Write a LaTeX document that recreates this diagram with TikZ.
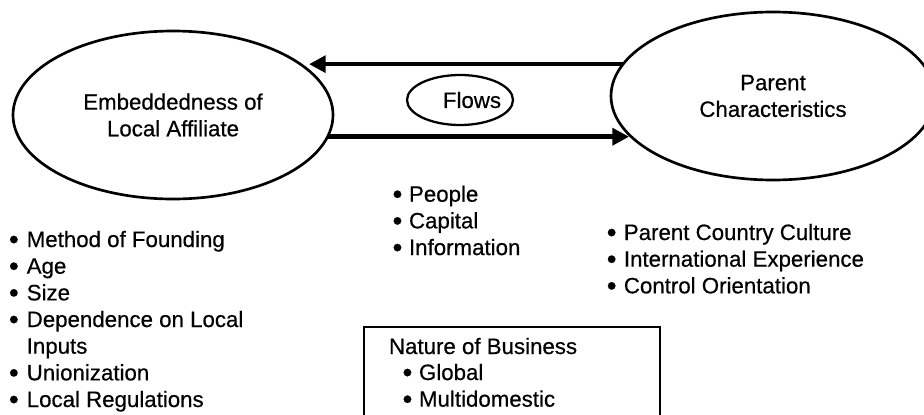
\documentclass[tikz,border=0pt]{standalone}
\usepackage{fontspec}
\usepackage{graphicx}
\setmainfont{Liberation Sans}[FakeBold=0.5]
\newfontfamily\heavysans{Liberation Sans}[FakeBold=0.5]
\newcommand\blt{\raisebox{-0.08em}{\scalebox{1.25}{•}}}
\usetikzlibrary{shapes.geometric,arrows.meta}
\begin{document}
\begin{tikzpicture}[x=0.75pt,y=-0.75pt,
  every node/.style={inner sep=0pt, outer sep=0pt},
  txt/.style={font=\heavysans\fontsize{16.7}{20}\selectfont},
  bigoval/.style={ellipse, draw, line width=2pt, minimum width=240pt,
    minimum height=126pt, align=center, txt},
  smalloval/.style={ellipse, draw, line width=1.7pt, minimum width=79.5pt,
    minimum height=37.5pt},
  flow/.style={line width=3.5pt, -{Triangle[length=12.5pt,width=12.5pt]}},
  listing/.style={anchor=base west, txt},
  frame/.style={draw, line width=1.7pt, minimum width=222pt,
    minimum height=120pt, anchor=north west}
]
\useasboundingbox (0,0) rectangle (924,414);
\fill[white] (0,0) rectangle (924,414);
\clip (0,0) rectangle (924,414);

% the two main ovals
\node[bigoval] (local) at (173,115) {Embeddedness of\\Local Affiliate};
\node[bigoval, minimum width=243pt] (parent) at (773,96) {Parent\\Characteristics};

% flows between them
\node[smalloval] (flowsoval) at (460,100) {};
\node[txt] (flows) at (472,100) {Flows};
\draw[flow] (parent.168) -- (parent.168 -| local.18);
\draw[flow] (local.-8) -- (local.-8 -| parent.195);

% bullet lists
\node[listing] (embedlist) at (9,247) {%
  \begin{tabular}[t]{@{}l@{\hspace{6pt}}l@{}}
  \blt & Method of Founding\\
  \blt & Age\\
  \blt & Size\\
  \blt & Dependence on Local\\
       & Inputs\\
  \blt & Unionization\\
  \blt & Local Regulations
  \end{tabular}};

\node[listing] (flowlist) at (392.6,201.7) {%
  \begin{tabular}[t]{@{}l@{\hspace{5pt}}l@{}}
  \blt & People\\
  \blt & Capital\\
  \blt & Information
  \end{tabular}};

\node[listing] (parentlist) at (606.8,240) {%
  \begin{tabular}[t]{@{}l@{\hspace{5.5pt}}l@{}}
  \blt & Parent Country Culture\\
  \blt & International Experience\\
  \blt & Control Orientation
  \end{tabular}};

% nature of business box
\node[frame] (business) at (364,327) {};
\node[listing] (businesstitle) at (389,354) {Nature of Business};
\node[listing] (businesslist) at (402.6,380) {%
  \begin{tabular}[t]{@{}l@{\hspace{5pt}}l@{}}
  \blt & Global\\
  \blt & Multidomestic
  \end{tabular}};
\end{tikzpicture}
\end{document}
